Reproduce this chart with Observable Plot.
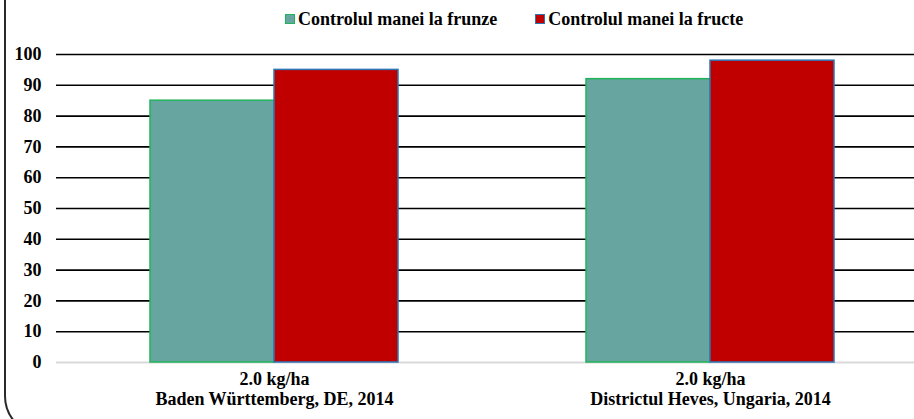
<!DOCTYPE html>
<html>
<head>
<meta charset="utf-8">
<script src="https://cdn.jsdelivr.net/npm/d3@7"></script>
<script src="https://cdn.jsdelivr.net/npm/@observablehq/plot@0.6"></script>
<style>
  html, body { margin: 0; padding: 0; background: #fff; overflow: hidden; }
  #wrap { position: relative; width: 914px; height: 419px; overflow: hidden; background: #fff;
          font-family: "Liberation Serif", "Times New Roman", serif; font-weight: bold; color: #000; }
  #frame { position: absolute; left: 4px; top: -60px; width: 2000px; height: 496px; box-sizing: border-box;
           border: 2px solid #2a2a2a; border-radius: 40px; }
  #legend { position: relative; height: 38px; display: flex; align-items: center; padding-left: 285px;
            font-size: 18px; white-space: nowrap; }
  .item { display: flex; align-items: center; margin-right: 38px; }
  .sw { width: 8px; height: 8px; margin-right: 3px; border: 1.5px solid; }
  #chart { position: relative; }
  #chart svg { max-width: none !important; }
</style>
</head>
<body>
<div id="wrap">
  <div id="frame"></div>
  <div id="legend"></div>
  <div id="chart"></div>
</div>
<script>
const categories = ["Baden Württemberg, DE, 2014", "Districtul Heves, Ungaria, 2014"];
const doseLabels = ["2.0 kg/ha", "2.0 kg/ha"];
const seriesNames = ["Controlul manei la frunze", "Controlul manei la fructe"];
const leafValues = [85, 92];
const fruitValues = [95, 98];
const yTicks = [0, 10, 20, 30, 40, 50, 60, 70, 80, 90, 100];
const fillColors = ["#66a5a0", "#c00000"];
const strokeColors = ["#22b35a", "#2e75b6"];

const data = categories.flatMap((c, i) => [
  {cat: c, series: seriesNames[0], value: leafValues[i]},
  {cat: c, series: seriesNames[1], value: fruitValues[i]}
]);

// legend
const legend = document.getElementById("legend");
seriesNames.forEach((s, i) => {
  const it = document.createElement("div");
  it.className = "item";
  const sw = document.createElement("span");
  sw.className = "sw";
  sw.style.background = fillColors[i];
  sw.style.borderColor = strokeColors[i];
  const t = document.createElement("span");
  t.textContent = s;
  it.appendChild(sw); it.appendChild(t);
  legend.appendChild(it);
});

const chart = Plot.plot({
  width: 928,
  height: 381,
  marginLeft: 55,
  marginRight: 0,
  marginTop: 16,
  marginBottom: 57,
  style: {fontFamily: "'Liberation Serif', 'Times New Roman', serif", fontWeight: "bold", fontSize: "18px", color: "#000", background: "transparent", overflow: "visible", maxWidth: "none"},
  fx: {domain: categories, padding: 0, label: null},
  x: {domain: seriesNames, paddingInner: 0, paddingOuter: 0.753, axis: null},
  y: {domain: [0, 100], axis: null},
  color: {domain: seriesNames, range: fillColors},
  marks: [
    Plot.ruleY(yTicks.filter(d => d > 0), {stroke: "#000", strokeWidth: 1.6}),
    Plot.ruleY([0], {stroke: "#d9d9d9", strokeWidth: 2}),
    Plot.barY(data, {fx: "cat", x: "series", y: "value", fill: "series",
      stroke: d => strokeColors[seriesNames.indexOf(d.series)], strokeWidth: 1.5}),
    Plot.axisY({ticks: yTicks, tickSize: 0, tickPadding: 15, label: null, fontWeight: "bold", fontSize: 18}),
    Plot.axisFx({anchor: "bottom", tickSize: 0, tickPadding: 8, label: null, fontWeight: "bold", fontSize: 18, lineHeight: 1.12,
      tickFormat: d => doseLabels[categories.indexOf(d)] + "\n" + d})
  ]
});
document.getElementById("chart").appendChild(chart);
</script>
</body>
</html>
